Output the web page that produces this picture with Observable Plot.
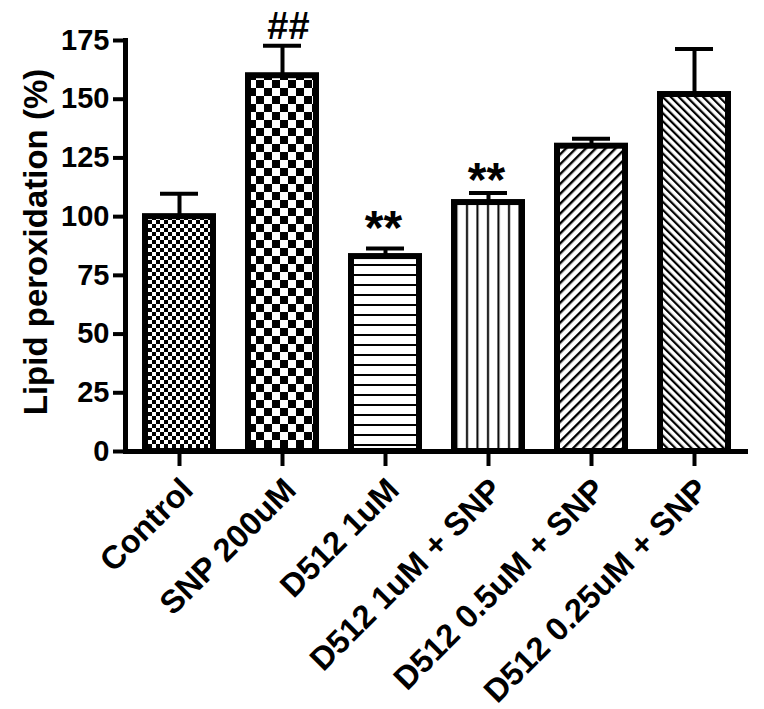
<!DOCTYPE html>
<html><head><meta charset="utf-8">
<script src="https://cdn.jsdelivr.net/npm/d3@7"></script>
<script src="https://cdn.jsdelivr.net/npm/@observablehq/plot@0.6"></script>
<style>body{margin:0;background:#fff}</style>
</head><body><div id="chart"></div>
<script>
const categories = ["Control","SNP 200uM","D512 1uM","D512 1uM + SNP","D512 0.5uM + SNP","D512 0.25uM + SNP"];
const means = [100, 160, 83, 106, 130, 152];
const errors = [9.8, 12.8, 3.4, 4.1, 3.2, 19.4];
const yTicks = [0, 25, 50, 75, 100, 125, 150, 175];
const yLabel = "Lipid peroxidation (%)";
const sigCategories = ["SNP 200uM", "D512 1uM", "D512 1uM + SNP"];
const sigLabels = ["##", "**", "**"];
const patternIds = ["pat-check-fine","pat-check-coarse","pat-hlines","pat-vlines","pat-diag-up","pat-diag-down"];

const data = categories.map((c, i) => ({cat: c, mean: means[i], err: errors[i], top: means[i] + errors[i], fill: `url(#${patternIds[i]})`}));
const sig = sigCategories.map((c, i) => ({cat: c, label: sigLabels[i], top: data.find(d => d.cat === c).top}));

const font = "'Liberation Sans', Arial, Helvetica, sans-serif";

const chart = Plot.plot({
  width: 764,
  height: 709,
  marginLeft: 125,
  marginRight: 16,
  marginTop: 40,
  marginBottom: 258,
  style: {fontFamily: font, background: "white", color: "black", overflow: "visible"},
  x: {domain: categories, paddingInner: 0.34, paddingOuter: 0.19, label: null},
  y: {domain: [0, 175], label: null},
  color: {type: "identity"},
  marks: [
    Plot.barY(data, {x: "cat", y: "mean", fill: "fill", stroke: "black", strokeWidth: 6}),
    Plot.ruleX(data, {x: "cat", y1: "mean", y2: "top", stroke: "black", strokeWidth: 4}),
    Plot.tickY(data, {x: "cat", y: "top", stroke: "black", strokeWidth: 4, insetLeft: 15, insetRight: 15}),
    Plot.ruleY([0], {stroke: "black", strokeWidth: 5}),
    Plot.frame({anchor: "left", stroke: "black", strokeWidth: 5}),
    Plot.axisY({ticks: yTicks, tickFormat: d => String(d), tickSize: 12, tickPadding: 4, strokeWidth: 4, fontSize: 29, fontWeight: "bold", label: null}),
    Plot.axisX({tickSize: 15, strokeWidth: 4, tickFormat: () => "", label: null}),
    Plot.axisX({tickSize: 0, tickRotate: -45, tickPadding: 33, dx: 8, fontSize: 32.5, fontWeight: "bold", label: null}),
    Plot.text([yLabel], {frameAnchor: "left", text: d => d, textAnchor: "middle", rotate: -90, dx: -89, dy: -4, fontSize: 33, fontWeight: "bold"}),
    Plot.text(sig.filter(d => d.label === "##"), {x: "cat", y: "top", text: "label", lineAnchor: "bottom", dy: -7, dx: 6, fontSize: 38, fontWeight: "bold"}),
    Plot.text(sig.filter(d => d.cat === "D512 1uM"), {x: "cat", y: "top", text: "label", lineAnchor: "bottom", dy: -5, dx: -2, fontSize: 48, fontWeight: "bold"}),
    Plot.text(sig.filter(d => d.cat === "D512 1uM + SNP"), {x: "cat", y: "top", text: "label", lineAnchor: "bottom", dy: 3, dx: -2, fontSize: 48, fontWeight: "bold"})
  ]
});

// Pattern definitions for bar fills
const defs = d3.select(chart).insert("defs", ":first-child");
function pat(id, w, h, transform) {
  const p = defs.append("pattern").attr("id", id).attr("patternUnits", "userSpaceOnUse").attr("width", w).attr("height", h);
  if (transform) p.attr("patternTransform", transform);
  p.append("rect").attr("width", w).attr("height", h).attr("fill", "white");
  return p;
}
let p = pat("pat-check-fine", 8, 8);
p.append("rect").attr("x", 0).attr("y", 0).attr("width", 4).attr("height", 4).attr("fill", "black");
p.append("rect").attr("x", 4).attr("y", 4).attr("width", 4).attr("height", 4).attr("fill", "black");
p = pat("pat-check-coarse", 16, 16);
p.append("rect").attr("x", 0).attr("y", 0).attr("width", 8).attr("height", 8).attr("fill", "black");
p.append("rect").attr("x", 8).attr("y", 8).attr("width", 8).attr("height", 8).attr("fill", "black");
p = pat("pat-hlines", 10, 10);
p.append("rect").attr("x", 0).attr("y", 4).attr("width", 10).attr("height", 2).attr("fill", "black");
p = pat("pat-vlines", 10.5, 10);
p.append("rect").attr("x", 4).attr("y", 0).attr("width", 2).attr("height", 10).attr("fill", "black");
p = pat("pat-diag-up", 7, 7, "rotate(45)");
p.append("rect").attr("x", 0).attr("y", 0).attr("width", 2.4).attr("height", 7).attr("fill", "black");
p = pat("pat-diag-down", 5.7, 5.7, "rotate(-45)");
p.append("rect").attr("x", 0).attr("y", 0).attr("width", 2.2).attr("height", 5.7).attr("fill", "black");

document.getElementById("chart").appendChild(chart);
</script>
</body></html>
